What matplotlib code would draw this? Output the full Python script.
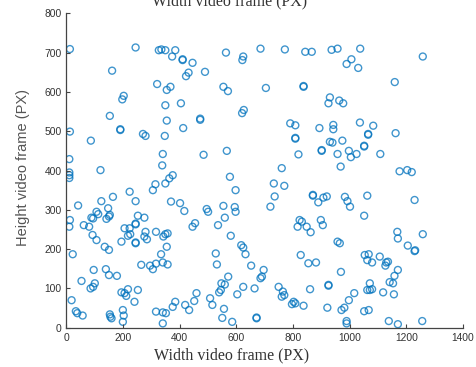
import matplotlib
matplotlib.use('Agg')
import matplotlib.pyplot as plt

# points (width px, height px)
width_px = [
    12, 244, 326, 335, 349, 384, 373, 410, 410, 445, 161, 431, 422, 320, 367, 354,
    202, 197, 404, 349, 153, 354, 472, 472, 12, 190, 190, 412, 270, 279, 347, 86,
    340, 10, 338, 120, 10, 10, 10, 375, 363,
    563, 624, 621, 685, 771, 843, 866, 936, 489, 554, 570, 704, 837, 837, 930, 925,
    626, 620, 790, 808, 893, 808, 808, 484, 566, 819, 901, 901, 930, 760, 577,
    957, 1037, 1006, 989, 1030, 1258, 1159, 963, 977, 942, 942, 1036, 1083, 1065, 1065,
    1162, 939, 974, 1051, 1051, 997, 1024, 957, 1004, 1108, 968, 1176, 1203, 1219,
    314, 305, 349, 223, 244, 164, 123, 41, 369, 401, 416, 106, 88, 94, 112, 147, 153,
    141, 150, 12, 10, 61, 80, 252, 275, 244, 244, 205, 223, 217, 225, 279, 275, 284,
    316, 349, 357, 342, 92, 106, 194, 244, 244, 135, 150, 354, 454, 445, 22, 334, 264,
    295, 305, 316, 340, 357, 96, 139, 150, 178, 53, 100, 94, 85, 217, 205, 194, 211,
    252, 240, 18, 33, 38, 57, 153, 159, 155, 199, 202, 199, 316, 340, 351, 340, 384,
    375, 419, 433, 451, 459,
    597, 732, 769, 735, 720, 870, 870, 907, 919, 889, 495, 500, 554, 594, 597, 559,
    535, 580, 823, 831, 816, 848, 862, 898, 905, 617, 624, 632, 527, 531, 652, 827,
    854, 881, 696, 690, 685, 571, 547, 559, 545, 539, 624, 603, 664, 749, 764, 769,
    760, 860, 925, 925, 507, 515, 556, 550, 585, 671, 671, 802, 796, 808, 837, 921,
    983, 992, 1001, 1062, 1051, 1229, 1168, 1170, 1205, 1229, 1231, 1258, 957, 965,
    1053, 1067, 1062, 1079, 1106, 1129, 1135, 1126, 1170, 1158, 1153, 1141, 1156, 969,
    1071, 1062, 1071, 1079, 1118, 1016, 997, 981, 971, 1051, 1067, 989, 989, 1138,
    1170, 1256,
]
height_px = [
    709, 713, 706, 708, 706, 706, 690, 681, 683, 674, 654, 649, 640, 620, 613, 605,
    590, 581, 571, 566, 539, 527, 532, 529, 499, 505, 503, 508, 493, 488, 488, 476,
    442, 429, 413, 401, 395, 388, 381, 388, 380,
    700, 690, 681, 710, 708, 702, 702, 707, 651, 613, 602, 610, 613, 615, 586, 571,
    554, 546, 520, 515, 508, 481, 483, 440, 450, 441, 450, 452, 473, 406, 384,
    710, 710, 683, 671, 661, 690, 625, 578, 571, 516, 505, 522, 514, 491, 493,
    495, 471, 476, 461, 463, 450, 442, 442, 434, 442, 410, 398, 401, 396,
    365, 350, 367, 346, 322, 333, 322, 311, 321, 317, 297, 295, 280, 278, 289, 304, 287,
    277, 283, 274, 257, 261, 257, 285, 280, 263, 265, 253, 253, 234, 238, 244, 232, 225,
    244, 238, 240, 232, 236, 223, 219, 215, 217, 206, 198, 206, 266, 257, 187, 187, 160,
    158, 149, 163, 166, 161, 147, 149, 134, 132, 119, 113, 104, 100, 98, 88, 90, 81,
    96, 66, 70, 42, 37, 31, 34, 24, 28, 45, 31, 15, 41, 39, 37, 11, 66,
    53, 58, 45, 68, 88,
    350, 367, 361, 334, 308, 336, 338, 331, 334, 319, 302, 295, 310, 307, 295, 280,
    261, 234, 274, 270, 257, 257, 243, 274, 261, 210, 204, 187, 189, 161, 158, 185,
    164, 166, 147, 130, 126, 130, 113, 110, 96, 90, 104, 85, 100, 104, 92, 83,
    79, 98, 107, 109, 75, 58, 48, 25, 15, 24, 26, 66, 60, 62, 56, 51,
    333, 322, 308, 336, 285, 325, 244, 227, 209, 195, 197, 238, 219, 215,
    185, 187, 172, 166, 181, 166, 168, 158, 147, 132, 113, 116, 85, 142,
    113, 96, 96, 98, 90, 88, 70, 51, 45, 42, 45, 17, 11, 17,
    9, 17,
]

fig = plt.figure(figsize=[4.76, 3.67], dpi=100)
ax = fig.add_axes([0.1397, 0.107, 0.833, 0.8568])

ax.scatter(width_px, height_px, s=25, facecolors='none', edgecolors='#0072BD',
           linewidths=1.0, alpha=0.75)

ax.set_xlim(0, 1400)
ax.set_ylim(0, 800)
ax.set_xticks(range(0, 1401, 200))
ax.set_yticks(range(0, 801, 100))

for side in ['top', 'right']:
    ax.spines[side].set_visible(False)
for side in ['left', 'bottom']:
    ax.spines[side].set_color('#444444')
    ax.spines[side].set_linewidth(0.9)

ax.tick_params(direction='in', length=3, width=0.8, color='#444444',
               labelsize=7.4, labelcolor='#333333')
for lab in ax.get_xticklabels() + ax.get_yticklabels():
    lab.set_family('Liberation Sans')

font_x = {'family': 'Liberation Serif', 'size': 11.5, 'color': '#333333'}
font_y = {'family': 'Liberation Sans', 'size': 10.5, 'color': '#555555'}
ax.set_xlabel('Width video frame (PX)', fontdict=font_x)
ax.xaxis.set_label_coords((232 - 66.5) / 396.5, -0.063)
ax.set_ylabel('Height video frame (PX)', fontdict=font_y)
ax.yaxis.set_label_coords((22.7 - 66.5) / 396.5, 0.51)
ax.yaxis.label.set_va('center')

# title of the panel above, clipped by the image edge
fig.text(230 / 476, 1 - 5 / 367, 'Width video frame (PX)', ha='center',
         va='baseline', fontdict=font_x)

plt.savefig('out.png', dpi=100)
